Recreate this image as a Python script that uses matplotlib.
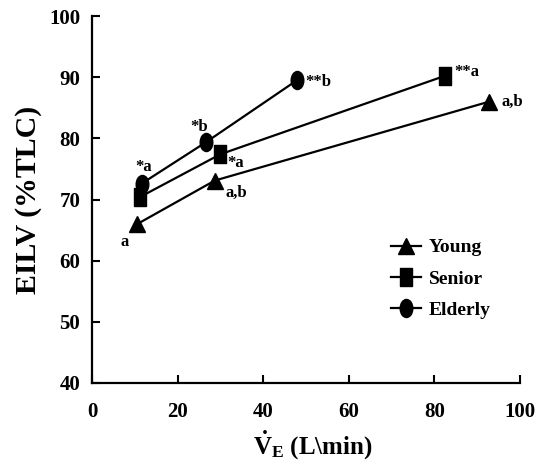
import matplotlib
matplotlib.use("Agg")
import matplotlib.pyplot as plt
from matplotlib.path import Path
from matplotlib.transforms import Affine2D

plt.rcParams['font.family'] = ['Liberation Serif', 'DejaVu Serif']
plt.rcParams['font.weight'] = 'bold'
plt.rcParams['mathtext.fontset'] = 'custom'
plt.rcParams['mathtext.rm'] = 'Liberation Serif:bold'
plt.rcParams['mathtext.bf'] = 'Liberation Serif:bold'
plt.rcParams['mathtext.it'] = 'Liberation Serif:bold'

groups = ["Young", "Senior", "Elderly"]
young_x = [10.6, 28.7, 92.8]
young_y = [66.0, 73.1, 86.0]
senior_x = [11.2, 30.0, 82.4]
senior_y = [70.4, 77.4, 90.2]
elderly_x = [11.6, 26.7, 47.9]
elderly_y = [72.6, 79.4, 89.5]

young_labels = ["a", "a,b", "a,b"]
senior_labels = ["", "*a", "**a"]
elderly_labels = ["*a", "*b", "**b"]

x_ticks = [0, 20, 40, 60, 80, 100]
y_ticks = [40, 50, 60, 70, 80, 90, 100]

# tall rectangle and tall ellipse markers (as in the reference)
rect_marker = Path([(-0.68, -1), (0.68, -1), (0.68, 1), (-0.68, 1), (-0.68, -1)],
                   [Path.MOVETO, Path.LINETO, Path.LINETO, Path.LINETO, Path.CLOSEPOLY])
ell_marker = Path.unit_circle().transformed(Affine2D().scale(0.7, 1.0))

fig = plt.figure(figsize=(5.44, 4.71), dpi=100)
ax = fig.add_axes([92 / 544, 1 - 383 / 471, 428 / 544, 367 / 471])

lw = 1.6
ax.plot(young_x, young_y, '-', color='black', lw=lw, marker='^', ms=12, label=groups[0])
ax.plot(senior_x, senior_y, '-', color='black', lw=lw, marker=rect_marker, ms=13, label=groups[1])
ax.plot(elderly_x, elderly_y, '-', color='black', lw=lw, marker=ell_marker, ms=13, label=groups[2])

fs = 12
def note(txt, x, y, dx, dy, ha):
    ax.annotate(txt, (x, y), xytext=(dx, dy), textcoords='offset points',
                ha=ha, va='center', fontsize=fs, fontweight='bold')

# Young
note(young_labels[0], young_x[0], young_y[0], -9, -13, 'center')
note(young_labels[1], young_x[1], young_y[1], 8, -9, 'left')
note(young_labels[2], young_x[2], young_y[2], 9, 0, 'left')
# Senior
note(senior_labels[1], senior_x[1], senior_y[1], 5, -6, 'left')
note(senior_labels[2], senior_x[2], senior_y[2], 7, 3, 'left')
# Elderly
note(elderly_labels[0], elderly_x[0], elderly_y[0], 1.5, 12, 'center')
note(elderly_labels[1], elderly_x[1], elderly_y[1], -5, 11, 'center')
note(elderly_labels[2], elderly_x[2], elderly_y[2], 6, -1, 'left')

ax.set_xlim(0, 100)
ax.set_ylim(40, 100)
ax.set_xticks(x_ticks)
ax.set_yticks(y_ticks)
ax.spines['top'].set_visible(False)
ax.spines['right'].set_visible(False)
ax.spines['left'].set_linewidth(1.6)
ax.spines['bottom'].set_linewidth(1.6)
ax.tick_params(direction='in', length=6, width=1.5, labelsize=15)
ax.tick_params(axis='x', pad=13.5)
ax.tick_params(axis='y', pad=8.5)
for lbl in ax.get_xticklabels() + ax.get_yticklabels():
    lbl.set_fontweight('bold')

ax.set_ylabel("EILV (%TLC)", fontsize=21.5, fontweight='bold')
ax.yaxis.set_label_coords(-0.117, 0.5)
ax.set_xlabel(r"$\dot{\mathrm{V}}_{\mathrm{E}}$ (L\min)", fontsize=18, fontweight='bold')
ax.xaxis.set_label_coords(0.515, -0.122)

leg = ax.legend(loc='upper left', bbox_to_anchor=(381 / 544, 1 - 229 / 471),
                bbox_transform=fig.transFigure, frameon=False, fontsize=14,
                handlelength=1.55, labelspacing=0.7, handletextpad=0.4, borderpad=0)
for t in leg.get_texts():
    t.set_fontweight('bold')

fig.savefig("out.png", dpi=100)
